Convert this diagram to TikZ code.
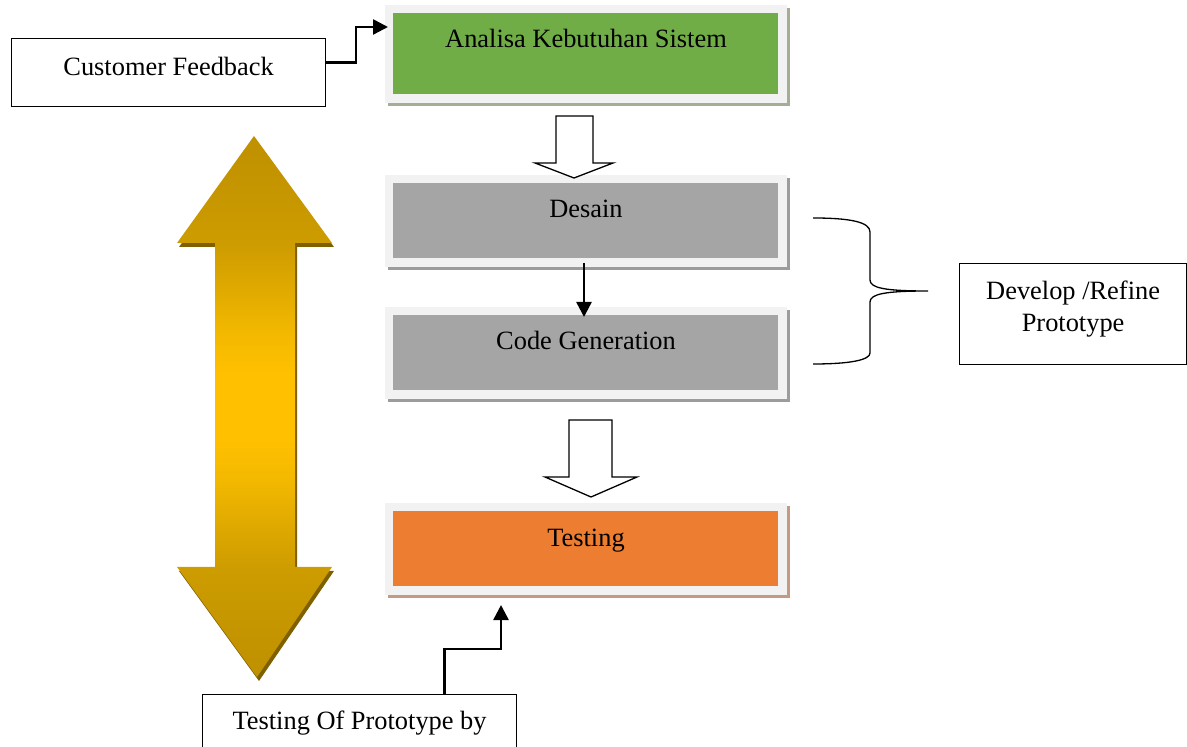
\documentclass[tikz,border=0pt]{standalone}
\usepackage{fontspec}
\setmainfont{Liberation Serif}
\usetikzlibrary{arrows.meta,shadows,calc}
\definecolor{framec}{HTML}{F2F2F2}
\definecolor{greenc}{HTML}{70AD47}
\definecolor{greensh}{HTML}{A2AE96}
\definecolor{grayc}{HTML}{A5A5A5}
\definecolor{graysh}{HTML}{9C9C9C}
\definecolor{orangec}{HTML}{ED7D31}
\definecolor{orangesh}{HTML}{C49A84}
\definecolor{golddark}{HTML}{BF9000}
\definecolor{goldmid}{HTML}{FFC000}
\definecolor{goldsh}{HTML}{7F6000}
\definecolor{goldA}{HTML}{CD9C00}
\definecolor{goldB}{HTML}{DFA900}
\definecolor{goldC}{HTML}{F2B800}
\pgfdeclareverticalshading{goldshade}{100bp}{color(0bp)=(golddark); color(25bp)=(golddark); color(35bp)=(goldA); color(39bp)=(goldB); color(43bp)=(goldC); color(47bp)=(goldmid); color(53bp)=(goldmid); color(57bp)=(goldC); color(61bp)=(goldB); color(65bp)=(goldA); color(75bp)=(golddark); color(100bp)=(golddark)}
\begin{document}
\begin{tikzpicture}[x=0.5pt,y=-0.5pt,
  font=\fontsize{13.2}{16}\selectfont,
  stage/.style={anchor=north west, inner sep=0pt, outer sep=0pt, minimum width=201pt,
    text height=21.5pt, fill=framec},
  inner fill/.style={path picture={\fill[#1] ([shift={(4pt,-4pt)}]path picture bounding box.north west)
      rectangle ([shift={(-4.5pt,4.5pt)}]path picture bounding box.south east);}},
  sh/.style={drop shadow={shadow xshift=1.5pt, shadow yshift=-1.7pt, fill=#1, opacity=1}},
  plainbox/.style={draw, line width=0.6pt, inner sep=0pt, anchor=north west, align=center},
  conn/.style={line width=1.25pt, -{Triangle[length=7.5pt,width=7.5pt]}},
  hollow/.style={draw, line width=0.65pt, fill=white, line join=miter},
  bracestyle/.style={draw, line width=0.65pt}
]
\useasboundingbox (0,0) rectangle (1187,747);

% big double arrow
\fill[goldsh] ($(254,136)+(2,4)$) -- ($(332,243)+(2,4)$) -- ($(295,243)+(2,4)$) -- ($(295,567)+(2,4)$)
  -- ($(332,567)+(2,4)$) -- ($(257,677)+(2,4)$) -- ($(177,567)+(2,4)$) -- ($(215,567)+(2,4)$)
  -- ($(215,243)+(2,4)$) -- ($(177,243)+(2,4)$) -- cycle;
\shade[shading=goldshade] (254,136) -- (332,243) -- (295,243) -- (295,567) -- (332,567) -- (257,677)
  -- (177,567) -- (215,567) -- (215,243) -- (177,243) -- cycle;

% stages
\node[stage, inner fill=greenc, sh=greensh, minimum height=49pt, text depth=27.5pt] (analisa) at (385,5) {Analisa Kebutuhan Sistem};
\node[stage, inner fill=grayc, sh=graysh, minimum height=46pt, text depth=24.5pt] (desain) at (385,175) {Desain};
\node[stage, inner fill=grayc, sh=graysh, minimum height=46pt, text depth=24.5pt] (code) at (385,307) {Code Generation};
\node[stage, inner fill=orangec, sh=orangesh, minimum height=46pt, text depth=24.5pt] (testing) at (385,503) {Testing};

% plain boxes
\node[plainbox, minimum width=157pt, text height=18.35pt, text depth=15.65pt] (cf) at (11,38) {Customer Feedback};
\node[plainbox, minimum width=113.5pt, text height=33.85pt, text depth=16.65pt] (dev) at (959,263) {Develop /Refine\\Prototype};
\node[plainbox, minimum width=157pt, text height=17.35pt, text depth=40pt] (tp) at (202,694) {Testing Of Prototype by};

% hollow arrows
\path[hollow] (556,116) -- (593,116) -- (593,163) -- (613,163) -- (574,178) -- (535,163) -- (556,163) -- cycle;
\path[hollow] (569,420) -- (612,420) -- (612,477) -- (637,477) -- (591,497) -- (545,477) -- (569,477) -- cycle;

% connectors
\draw[conn] ([yshift=5pt]cf.east) -- ++(30,0) |- ([yshift=13.5pt,xshift=1.5pt]analisa.west);
\draw[conn] ([xshift=-1pt,yshift=2pt]desain.south) -- ([xshift=-1pt,yshift=-5pt]code.north);
\draw[conn] ([xshift=42.5pt]tp.north) -- ++(0,-45) -| ([xshift=-42.5pt,yshift=-5pt]testing.south);

% brace
\path[bracestyle] (813,218) .. controls (850,218) and (870,222) .. (870,232) -- (870,280)
  .. controls (870,288) and (885,291) .. (928,291)
  .. controls (885,291) and (870,294) .. (870,302) -- (870,353)
  .. controls (870,360) and (850,364) .. (813,364);
\end{tikzpicture}
\end{document}
